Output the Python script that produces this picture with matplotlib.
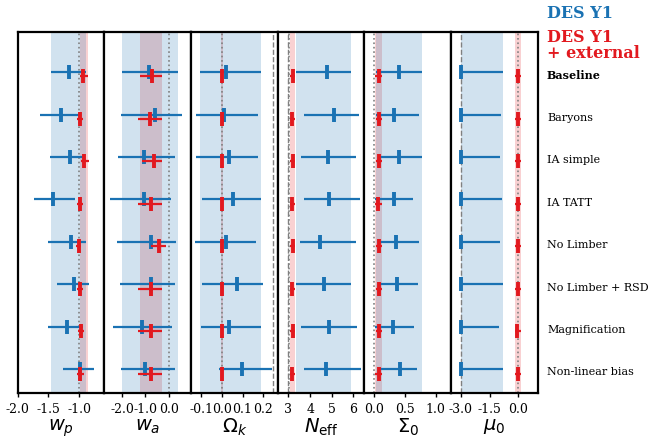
import matplotlib.pyplot as plt
import numpy as np
from matplotlib.transforms import blended_transform_factory

plt.rcParams['axes.unicode_minus'] = False

rows = ['Baseline', 'Baryons', 'IA simple', 'IA TATT', 'No Limber',
        'No Limber + RSD', 'Magnification', 'Non-linear bias']
params = [r'$w_p$', r'$w_a$', r'$\Omega_k$', r'$N_{\rm eff}$', r'$\Sigma_0$', r'$\mu_0$']

# DES Y1 alone (centre, lower end, upper end) for each parameter
wp_y1 = [-1.17, -1.30, -1.15, -1.43, -1.14, -1.085, -1.20, -0.99]
wp_y1_lo = [-1.46, -1.63, -1.48, -1.74, -1.50, -1.355, -1.50, -1.27]
wp_y1_hi = [-0.90, -0.99, -0.935, -1.07, -0.90, -0.845, -0.945, -0.76]
wa_y1 = [-0.85, -0.58, -1.04, -1.04, -0.75, -0.75, -1.15, -1.00]
wa_y1_lo = [-2.01, -2.05, -2.15, -2.51, -2.22, -2.08, -2.37, -2.05]
wa_y1_hi = [0.39, 0.57, 0.25, 0.11, 0.31, 0.28, 0.16, 0.25]
ok_y1 = [0.021, 0.011, 0.034, 0.055, 0.021, 0.075, 0.033, 0.096]
ok_y1_lo = [-0.106, -0.126, -0.123, -0.098, -0.131, -0.095, -0.101, -0.012]
ok_y1_hi = [0.188, 0.176, 0.176, 0.188, 0.163, 0.199, 0.191, 0.245]
neff_y1 = [4.77, 5.12, 4.82, 4.86, 4.46, 4.63, 4.85, 4.72]
neff_y1_lo = [3.35, 3.70, 3.57, 3.74, 3.51, 3.35, 3.59, 3.74]
neff_y1_hi = [5.89, 6.26, 6.10, 6.30, 6.10, 5.87, 6.15, 6.35]
s0_y1 = [0.41, 0.325, 0.406, 0.325, 0.357, 0.373, 0.319, 0.427]
s0_y1_lo = [0.039, 0.039, 0.092, 0.023, 0.104, 0.104, 0.023, 0.104]
s0_y1_hi = [0.777, 0.734, 0.787, 0.642, 0.729, 0.723, 0.658, 0.706]
mu0_y1 = [-3.0, -3.0, -3.0, -3.0, -3.0, -3.0, -3.0, -3.0]
mu0_y1_lo = [-3.0, -3.0, -3.0, -3.0, -3.0, -3.0, -3.0, -3.0]
mu0_y1_hi = [-0.79, -0.92, -0.96, -0.87, -0.96, -0.82, -0.99, -0.82]

# DES Y1 + external
wp_ext = [-0.94, -0.99, -0.92, -0.99, -1.015, -0.99, -0.97, -0.985]
wp_ext_lo = [-0.99, -1.04, -0.97, -1.04, -1.06, -1.04, -1.03, -1.04]
wp_ext_hi = [-0.87, -0.935, -0.84, -0.935, -0.97, -0.935, -0.92, -0.93]
wa_ext = [-0.72, -0.78, -0.65, -0.76, -0.41, -0.76, -0.76, -0.75]
wa_ext_lo = [-1.22, -1.32, -1.15, -1.32, -0.76, -1.32, -1.30, -1.30]
wa_ext_hi = [-0.27, -0.27, -0.27, -0.29, -0.12, -0.29, -0.29, -0.29]
ok_ext = [0.002, 0.002, 0.002, 0.002, 0.002, 0.002, 0.002, 0.002]
ok_ext_lo = [-0.002, -0.002, -0.002, -0.002, -0.002, -0.002, -0.002, -0.002]
ok_ext_hi = [0.006, 0.006, 0.006, 0.006, 0.006, 0.006, 0.006, 0.006]
neff_ext = [3.19, 3.18, 3.19, 3.18, 3.19, 3.16, 3.19, 3.16]
neff_ext_lo = [3.07, 3.07, 3.07, 3.07, 3.07, 3.05, 3.07, 3.05]
neff_ext_hi = [3.31, 3.30, 3.31, 3.30, 3.31, 3.28, 3.31, 3.28]
s0_ext = [0.083, 0.087, 0.087, 0.076, 0.087, 0.087, 0.087, 0.08]
s0_ext_lo = [0.028, 0.035, 0.035, 0.025, 0.035, 0.035, 0.035, 0.03]
s0_ext_hi = [0.136, 0.14, 0.14, 0.13, 0.14, 0.14, 0.14, 0.135]
mu0_ext = [-0.04, -0.04, -0.04, -0.04, -0.04, -0.04, -0.07, -0.04]
mu0_ext_lo = [-0.18, -0.18, -0.18, -0.18, -0.18, -0.18, -0.20, -0.18]
mu0_ext_hi = [0.15, 0.15, 0.15, 0.15, 0.15, 0.15, 0.12, 0.15]

y1 = [(wp_y1, wp_y1_lo, wp_y1_hi), (wa_y1, wa_y1_lo, wa_y1_hi), (ok_y1, ok_y1_lo, ok_y1_hi),
      (neff_y1, neff_y1_lo, neff_y1_hi), (s0_y1, s0_y1_lo, s0_y1_hi), (mu0_y1, mu0_y1_lo, mu0_y1_hi)]
ext = [(wp_ext, wp_ext_lo, wp_ext_hi), (wa_ext, wa_ext_lo, wa_ext_hi), (ok_ext, ok_ext_lo, ok_ext_hi),
       (neff_ext, neff_ext_lo, neff_ext_hi), (s0_ext, s0_ext_lo, s0_ext_hi),
       (mu0_ext, mu0_ext_lo, mu0_ext_hi)]

xlims = [(-2.0, -0.6), (-2.76, 0.95), (-0.15, 0.27), (2.5, 6.5), (-0.15, 1.25), (-3.5, 1.0)]
xticks = [[-2.0, -1.5, -1.0], [-2.0, -1.0, 0.0], [-0.1, 0.0, 0.1, 0.2], [3, 4, 5, 6],
          [0.0, 0.5, 1.0], [-3.0, -1.5, 0.0]]
fiducial = [-1.0, 0.0, 0.0, 3.046, 0.0, 0.0]
prior_edge = [None, None, 0.25, 3.0, None, -3.0]

blue = '#1a72b3'
red = '#e2191f'

fig, axes = plt.subplots(1, 6, sharey=True, figsize=(6.64, 4.39), dpi=100)
fig.subplots_adjust(left=0.0264, right=0.8098, top=0.9255, bottom=0.1032, wspace=0)

y = np.arange(len(rows))
for i, ax in enumerate(axes):
    c1, lo1, hi1 = [np.array(a) for a in y1[i]]
    c2, lo2, hi2 = [np.array(a) for a in ext[i]]
    # baseline bands (red under blue)
    ax.axvspan(lo2[0], hi2[0], color=red, alpha=0.2, lw=0, zorder=0)
    ax.axvspan(lo1[0], hi1[0], color=blue, alpha=0.2, lw=0, zorder=0)
    ax.axvline(fiducial[i], color='gray', ls=':', lw=1.2, zorder=1)
    if prior_edge[i] is not None:
        ax.axvline(prior_edge[i], color='gray', ls='--', lw=1.0, zorder=1)
    ax.errorbar(c1, y - 0.05, xerr=[c1 - lo1, hi1 - c1], fmt='|', color=blue,
                ms=10, mew=2.8, elinewidth=1.6, capsize=0, zorder=2)
    ax.errorbar(c2, y + 0.05, xerr=[c2 - lo2, hi2 - c2], fmt='|', color=red,
                ms=10, mew=2.8, elinewidth=1.6, capsize=0, zorder=3)
    ax.set_xlim(*xlims[i])
    ax.set_xticks(xticks[i])
    if i == 3:
        ax.set_xticklabels(['%d' % t for t in xticks[i]])
    else:
        ax.set_xticklabels(['%.1f' % t for t in xticks[i]])
    for lab in ax.get_xticklabels():
        lab.set_family('DejaVu Serif')
        lab.set_fontsize(9)
    ax.tick_params(axis='y', left=False, labelleft=False)
    ax.tick_params(axis='x', length=3, width=1)
    ax.set_xlabel(params[i], fontsize=14, labelpad=1)
    for sp in ax.spines.values():
        sp.set_linewidth(1.6)

axes[0].set_ylim(7.5, -1)

trans = blended_transform_factory(axes[-1].transAxes, axes[-1].transData)
for j, name in enumerate(rows):
    axes[-1].text(1.107, j, name, transform=trans, va='center', ha='left',
                  family='DejaVu Serif', fontsize=8,
                  fontweight='bold' if j == 0 else 'normal')

fig.text(547 / 664, 1 - 14 / 439, 'DES Y1', color=blue, family='DejaVu Serif',
         fontsize=11.5, fontweight='bold', va='center', ha='left')
fig.text(547 / 664, 1 - 37 / 439, 'DES Y1', color=red, family='DejaVu Serif',
         fontsize=11.5, fontweight='bold', va='center', ha='left')
fig.text(547 / 664, 1 - 54 / 439, '+ external', color=red, family='DejaVu Serif',
         fontsize=11.5, fontweight='bold', va='center', ha='left')

fig.savefig('out.png', dpi=100)
